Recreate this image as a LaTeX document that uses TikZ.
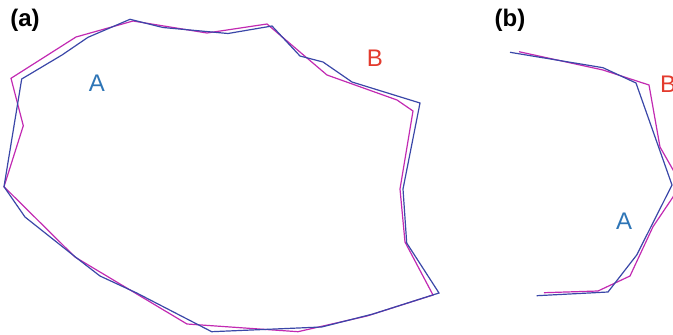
\documentclass[tikz,border=0pt]{standalone}
\usepackage{fontspec}
\setmainfont{Liberation Sans}
\begin{document}
\begin{tikzpicture}[x=1pt,y=-1pt,
  outlineA/.style={draw=curveblue,line width=1.2pt,line join=miter},
  outlineB/.style={draw=curvemag,line width=1.2pt,line join=miter},
  panel/.style={font=\fontsize{24}{26}\selectfont\bfseries,text=black,inner sep=0pt},
  tagA/.style={font=\fontsize{24}{26}\selectfont,text=tagblue,inner sep=0pt},
  tagB/.style={font=\fontsize{24}{26}\selectfont,text=tagred,inner sep=0pt}]
\definecolor{curveblue}{HTML}{3A47A8}
\definecolor{curvemag}{HTML}{C22AB2}
\definecolor{tagblue}{HTML}{2E75B6}
\definecolor{tagred}{HTML}{E33B2E}
\useasboundingbox (0,0) rectangle (673,335);
\clip (0,0) rectangle (673,335);

% panel (a): closed contours
\draw[outlineB] (11,78.3) -- (76,37) -- (133,21) -- (207,33) -- (267,24)
  -- (327,75) -- (397,100) -- (413,111) -- (400,189) -- (405,242)
  -- (433,295) -- (367,316) -- (298,331.7) -- (187,324) -- (100,272)
  -- (75,257) -- (4,186.7) -- (23.3,125.7) -- cycle;
\draw[outlineA] (21.7,79) -- (62,55) -- (88,37.3) -- (130,19.3) -- (163,27.5)
  -- (228,33.5) -- (272,26) -- (300,56) -- (323,62) -- (352,82)
  -- (420,103) -- (403,189) -- (406.7,243) -- (439,293) -- (373,314)
  -- (321.7,327) -- (211.7,331.7) -- (136.7,293) -- (100,276) -- (76.7,258)
  -- (25,217) -- (4,186.7) -- cycle;

% panel (b): open contours
\draw[outlineB] (519,51.7) -- (603,70) -- (649,85) -- (660,147) -- (680,182)
  -- (673,197) -- (653,226.7) -- (630,276) -- (598,291) -- (544,292.7);
\draw[outlineA] (510,52.3) -- (603,67.7) -- (636,83) -- (672,185)
  -- (636.7,255) -- (608,292) -- (536.7,295.7);

% labels
\node[panel] (pa) at (25,20) {(a)};
\node[panel] (pb) at (510,20) {(b)};
\node[tagA] (la) at (97,83) {A};
\node[tagB] (lb) at (375,58) {B};
\node[tagA] (la2) at (624,221) {A};
\node[tagB] (lb2) at (668,84) {B};
\end{tikzpicture}
\end{document}
